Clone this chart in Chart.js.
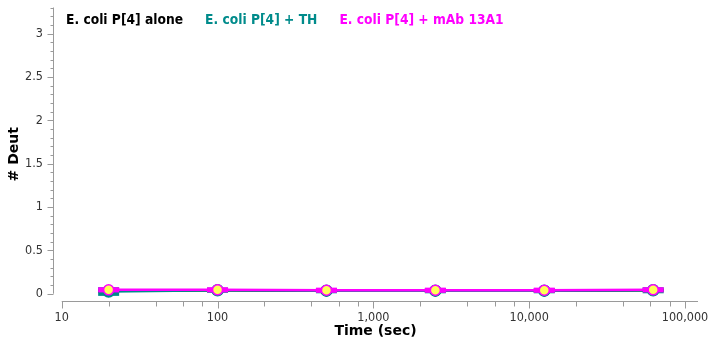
<!DOCTYPE html>
<html>
<head>
<meta charset="utf-8">
<script src="https://cdn.jsdelivr.net/npm/chart.js"></script>
<style>
  html, body { margin: 0; padding: 0; background: #fff; }
  canvas { display: block; }
</style>
</head>
<body>
<canvas id="c" width="709" height="341"></canvas>
<script>
var times = [20, 100, 500, 2500, 12500, 62500];
var aloneVals = [0.035, 0.04, 0.035, 0.035, 0.035, 0.04];
var thVals = [0.025, 0.04, 0.035, 0.035, 0.035, 0.04];
var mabVals = [0.045, 0.045, 0.04, 0.04, 0.04, 0.045];
var aloneErr = [0.025, 0.02, 0.02, 0.02, 0.02, 0.02];
var thErr = [0.05, 0.03, 0.03, 0.03, 0.03, 0.035];
var mabErr = [0.03, 0.03, 0.03, 0.03, 0.03, 0.03];
var seriesNames = ["E. coli P[4] alone", "E. coli P[4] + TH", "E. coli P[4] + mAb 13A1"];
var seriesColors = ["#000000", "#008b8b", "#ff00ff"];

var xMajorTicks = [10, 100, 1000, 10000, 100000];
var xMinorTicks = [20, 40, 60, 80, 200, 400, 600, 800, 2000, 4000, 6000, 8000,
  20000, 40000, 60000, 80000];
var yMajorTicks = [0, 0.5, 1, 1.5, 2, 2.5, 3];
var yMinorTicks = [0.1, 0.2, 0.3, 0.4, 0.6, 0.7, 0.8, 0.9, 1.1, 1.2, 1.3, 1.4,
  1.6, 1.7, 1.8, 1.9, 2.1, 2.2, 2.3, 2.4, 2.6, 2.7, 2.8, 2.9, 3.1, 3.2, 3.3];
var yTop = 3.3;

var FONT = "'DejaVu Sans', Verdana, sans-serif";
var CFONT = "'DejaVu Sans Condensed', 'DejaVu Sans', sans-serif";
var AXIS = "#9a9a9a";

function pts(vals) {
  return times.map(function (t, i) { return { x: t, y: vals[i] }; });
}

// error boxes drawn under each dataset's own line and markers
var errBoxes = {
  id: "errBoxes",
  beforeDatasetDraw: function (chart, args) {
    var ds = chart.data.datasets[args.index];
    if (!ds.err) return;
    var xs = chart.scales.x, ys = chart.scales.y, ctx = chart.ctx;
    ctx.save();
    ctx.fillStyle = ds.borderColor;
    ds.data.forEach(function (p, i) {
      var px = xs.getPixelForValue(p.x);
      var top = ys.getPixelForValue(p.y + ds.err[i]);
      var bot = ys.getPixelForValue(p.y - ds.err[i]);
      ctx.fillRect(px - 10.5, top, 21, Math.max(2, bot - top));
    });
    ctx.restore();
  }
};

var axesDraw = {
  id: "axesDraw",
  afterDraw: function (chart) {
    var ctx = chart.ctx, xs = chart.scales.x, ys = chart.scales.y;
    var area = chart.chartArea;
    ctx.save();
    ctx.strokeStyle = AXIS;
    ctx.lineWidth = 1;
    ctx.beginPath();
    var lx = Math.round(area.left) + 0.5;
    ctx.moveTo(lx, ys.getPixelForValue(yTop));
    ctx.lineTo(lx, ys.getPixelForValue(0));
    yMajorTicks.forEach(function (v) {
      var y = Math.round(ys.getPixelForValue(v)) + 0.5;
      ctx.moveTo(lx, y); ctx.lineTo(lx - 6, y);
    });
    yMinorTicks.forEach(function (v) {
      var y = Math.round(ys.getPixelForValue(v)) + 0.5;
      ctx.moveTo(lx, y); ctx.lineTo(lx - 3, y);
    });
    var by = Math.round(area.bottom) + 0.5;
    ctx.moveTo(xs.getPixelForValue(10), by);
    ctx.lineTo(area.right, by);
    xMajorTicks.forEach(function (v) {
      var x = Math.round(xs.getPixelForValue(v)) + 0.5;
      ctx.moveTo(x, by); ctx.lineTo(x, by + 7);
    });
    xMinorTicks.forEach(function (v) {
      var x = Math.round(xs.getPixelForValue(v)) + 0.5;
      ctx.moveTo(x, by); ctx.lineTo(x, by + 5);
    });
    ctx.stroke();

    // legend
    ctx.font = "bold 13.7px " + CFONT;
    ctx.textBaseline = "middle";
    var x = 66;
    seriesNames.forEach(function (name, i) {
      ctx.fillStyle = seriesColors[i];
      ctx.fillText(name, x, 20);
      x += ctx.measureText(name).width + 22;
    });
    ctx.restore();
  }
};

new Chart(document.getElementById("c"), {
  type: "line",
  data: {
    datasets: [
      {
        label: seriesNames[2], data: pts(mabVals), err: mabErr, order: 0,
        borderColor: seriesColors[2], borderWidth: 2.5,
        pointRadius: 5, pointBorderWidth: 1.5,
        pointBackgroundColor: "#ffff55", pointBorderColor: seriesColors[2]
      },
      {
        label: seriesNames[1], data: pts(thVals), err: thErr, order: 1,
        borderColor: seriesColors[1], borderWidth: 2.5,
        pointRadius: 5, pointBackgroundColor: seriesColors[1], pointBorderColor: seriesColors[1]
      },
      {
        label: seriesNames[0], data: pts(aloneVals), err: aloneErr, order: 2,
        borderColor: seriesColors[0], borderWidth: 2.5,
        pointRadius: 4.5, pointBackgroundColor: seriesColors[0], pointBorderColor: seriesColors[0]
      }
    ]
  },
  options: {
    responsive: false,
    animation: false,
    devicePixelRatio: 1,
    layout: { padding: { top: 7, right: 11, left: 0, bottom: 0 } },
    plugins: { legend: { display: false }, tooltip: { enabled: false } },
    scales: {
      x: {
        type: "logarithmic",
        min: 8.79, max: 121200,
        afterBuildTicks: function (s) {
          s.ticks = xMajorTicks.map(function (v) { return { value: v }; });
        },
        afterFit: function (s) {
          s.height = 40;
          s.paddingLeft = 0; s.paddingRight = 0;
        },
        border: { display: false },
        grid: { display: false, drawTicks: true, tickLength: 5 },
        ticks: {
          autoSkip: false, maxRotation: 0, padding: 4, color: "#333",
          font: { family: CFONT, size: 12.5 },
          callback: function (v) { return Number(v).toLocaleString("en-US"); }
        },
        title: {
          display: true, text: "Time (sec)", color: "#000",
          font: { family: FONT, size: 14, weight: "bold" },
          padding: { top: 0, bottom: 1 }
        }
      },
      y: {
        min: -0.084, max: yTop,
        afterBuildTicks: function (s) {
          s.ticks = yMajorTicks.map(function (v) { return { value: v }; });
        },
        afterFit: function (s) {
          s.width = 53;
          s.paddingTop = 0; s.paddingBottom = 0;
        },
        border: { display: false },
        grid: { display: false, drawTicks: true, tickLength: 5 },
        ticks: {
          autoSkip: false, padding: 5, color: "#333",
          font: { family: CFONT, size: 12.5 },
          callback: function (v) { return String(v); }
        },
        title: {
          display: true, text: "# Deut", color: "#000",
          font: { family: FONT, size: 14, weight: "bold" },
          padding: { top: 6, bottom: 0 }
        }
      }
    }
  },
  plugins: [errBoxes, axesDraw]
});
</script>
</body>
</html>
